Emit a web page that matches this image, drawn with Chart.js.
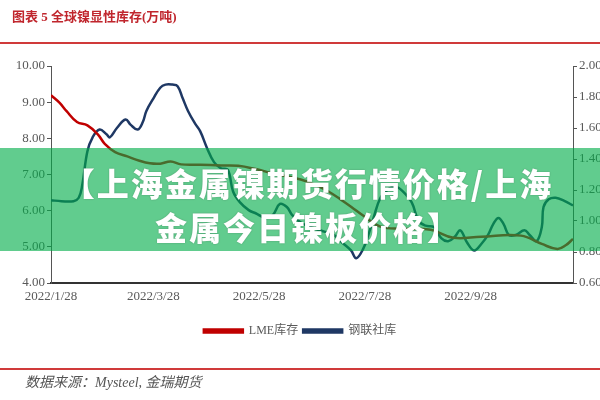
<!DOCTYPE html>
<html>
<head>
<meta charset="utf-8">
<script src="https://cdn.jsdelivr.net/npm/chart.js@4"></script>
<style>
  body { margin: 0; background: #fff; }
  #wrap { position: relative; width: 600px; height: 400px; overflow: hidden; }
  #title { position: absolute; left: 12px; top: 6px; font: bold 13px "Liberation Serif", "Noto Sans CJK SC", serif; color: #c0262d; }
  .rule { position: absolute; left: 0; width: 600px; height: 2px; background: #d03a3a; }
  #source { position: absolute; left: 25px; top: 371px; font: italic 14px "Liberation Serif", "Noto Sans CJK SC", serif; color: #555; }
  #banner { position: absolute; left: 0; top: 148px; width: 600px; height: 103px; background: rgba(0,172,72,0.62);
            color: #fff; text-align: center; font: 900 32px/44px "Noto Sans CJK SC", sans-serif; letter-spacing: 2px;
            padding: 12px 0 0 16px; box-sizing: border-box; text-shadow: 0 0 2px rgba(0,0,0,0.25); }
</style>
</head>
<body>
<div id="wrap">
  <canvas id="chart" width="600" height="400"></canvas>
  <div id="title">图表 5 全球镍显性库存(万吨)</div>
  <div class="rule" style="top:42px"></div>
  <div class="rule" style="top:368px"></div>
  <div id="source">数据来源：Mysteel, 金瑞期货</div>
  <div id="banner">【上海金属镍期货行情价格/上海<br>金属今日镍板价格】</div>
</div>
<script>
// days counted from 2022/1/28
const tickDays = [0, 59, 120, 181, 242];
const tickLabels = ['2022/1/28', '2022/3/28', '2022/5/28', '2022/7/28', '2022/9/28'];

// LME库存 (left axis, 万吨)
const lmeDays = [0, 5, 9, 15, 21, 27, 31, 37, 44, 51, 57, 63, 69, 75, 86, 98, 108, 118, 128, 144, 153, 160, 167, 173, 181, 190, 202, 219, 232, 248, 271, 283, 292, 297, 301];
const lmeVals = [9.19, 8.98, 8.75, 8.45, 8.36, 8.11, 7.85, 7.62, 7.5, 7.38, 7.31, 7.3, 7.36, 7.28, 7.27, 7.25, 7.24, 7.15, 7.03, 6.86, 6.7, 6.53, 6.31, 6.11, 5.83, 5.56, 5.5, 5.47, 5.25, 5.28, 5.31, 5.08, 4.94, 5.05, 5.22];

// 钢联社库 (right axis, 万吨)
const mysDays = [0, 6, 13, 16, 18, 21, 24, 28, 32, 34, 38, 43, 46, 50, 53, 55, 59, 63, 66, 70, 73, 76, 79, 83, 86, 90, 94, 98, 102, 105, 109, 114, 118, 124, 128, 132, 136, 139, 144, 150, 155, 163, 168, 173, 176, 180, 183, 186, 190, 195, 199, 203, 208, 212, 216, 221, 225, 229, 233, 236, 240, 244, 248, 252, 255, 258, 261, 264, 268, 273, 276, 280, 283, 284, 287, 291, 296, 301];
const mysVals = [1.134, 1.128, 1.128, 1.15, 1.23, 1.45, 1.54, 1.59, 1.56, 1.54, 1.6, 1.655, 1.62, 1.59, 1.64, 1.71, 1.79, 1.86, 1.88, 1.88, 1.87, 1.79, 1.71, 1.63, 1.58, 1.47, 1.38, 1.34, 1.33, 1.19, 1.12, 1.07, 1.05, 1.02, 1.04, 1.11, 1.09, 1.04, 0.99, 0.96, 0.94, 0.91, 0.86, 0.81, 0.76, 0.82, 0.91, 1.02, 1.15, 1.21, 1.22, 1.19, 1.12, 1.0, 0.97, 0.96, 0.89, 0.87, 0.9, 0.94, 0.86, 0.81, 0.85, 0.91, 0.98, 1.02, 0.98, 0.91, 0.91, 0.94, 0.91, 0.87, 0.96, 1.09, 1.14, 1.15, 1.13, 1.1];

const toXY = (d, v) => d.map((x, i) => ({ x: x, y: v[i] }));
const tickFont = { family: '"Liberation Serif", serif', size: 13 };

new Chart(document.getElementById('chart'), {
  type: 'line',
  data: {
    datasets: [{
      label: 'LME库存',
      data: toXY(lmeDays, lmeVals),
      borderColor: '#c00000',
      backgroundColor: '#c00000',
      borderWidth: 2.5,
      pointRadius: 0,
      tension: 0.4,
      yAxisID: 'y'
    }, {
      label: '钢联社库',
      data: toXY(mysDays, mysVals),
      borderColor: '#1f3864',
      backgroundColor: '#1f3864',
      borderWidth: 2.5,
      pointRadius: 0,
      tension: 0.4,
      yAxisID: 'y1'
    }]
  },
  options: {
    responsive: false,
    animation: false,
    layout: { padding: { top: 66, left: 0, right: 0, bottom: 53 } },
    scales: {
      x: {
        type: 'linear',
        min: 0,
        max: 301,
        afterBuildTicks: s => { s.ticks = tickDays.map(v => ({ value: v })); },
        afterFit: s => { s.height = 37; },
        ticks: { color: '#595959', font: tickFont, padding: 6, maxRotation: 0,
                 callback: v => tickLabels[tickDays.indexOf(v)] },
        grid: { display: false, drawTicks: false },
        border: { color: '#333', width: 2 }
      },
      y: {
        position: 'left',
        min: 4,
        max: 10,
        afterFit: s => { s.width = 51; },
        ticks: { stepSize: 1, color: '#595959', font: tickFont, padding: 2, callback: v => v.toFixed(2) },
        grid: { drawOnChartArea: false, tickLength: 4, color: '#555' },
        border: { color: '#555', width: 1 }
      },
      y1: {
        position: 'right',
        min: 0.6,
        max: 2.0,
        afterFit: s => { s.width = 27; },
        ticks: { stepSize: 0.2, color: '#595959', font: tickFont, padding: 2, callback: v => v.toFixed(2) },
        grid: { drawOnChartArea: false, tickLength: 4, color: '#555' },
        border: { color: '#555', width: 1 }
      }
    },
    plugins: {
      legend: {
        position: 'bottom',
        labels: { boxWidth: 39, boxHeight: 3, padding: 5, color: '#595959',
                  font: { family: '"Liberation Serif", "Noto Sans CJK SC", serif', size: 12 } }
      },
      tooltip: { enabled: false }
    }
  }
});
</script>
</body>
</html>
